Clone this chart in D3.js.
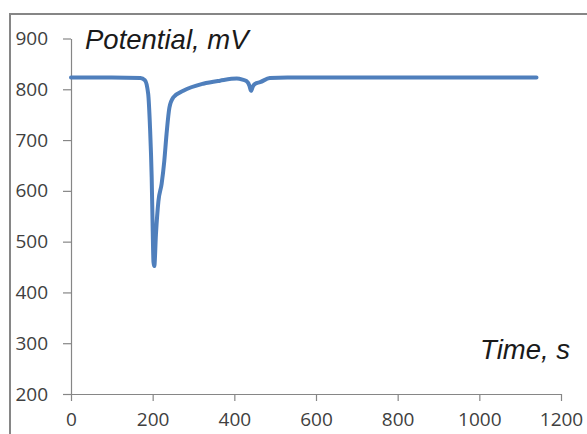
<!DOCTYPE html>
<html>
<head>
<meta charset="utf-8">
<script src="https://cdn.jsdelivr.net/npm/d3@7"></script>
<style>
  html, body { margin: 0; padding: 0; background: #fff; }
  #chart { width: 587px; height: 434px; }
</style>
</head>
<body>
<div id="chart"></div>
<script>
// time (s) and potential (mV)
const timeS = [0, 100, 170, 181, 189, 193.5, 197.6, 200, 202, 204, 208, 214, 222, 228.5, 234, 241, 250.5, 275, 324, 365, 406, 420, 430, 437, 441, 445, 451, 463, 487, 530, 600, 700, 800, 900, 1000, 1140];
const potentialMV = [823, 823, 822, 818, 791, 725, 626, 527, 460, 452, 514, 579, 614, 659, 712, 764, 784, 797, 811, 817, 821, 819, 816, 807, 797, 805, 811, 814, 822, 823, 823, 823, 823, 823, 823, 823];
const xTicks = [0, 200, 400, 600, 800, 1000, 1200];
const yTicks = [200, 300, 400, 500, 600, 700, 800, 900];

const W = 587, H = 434;
const svg = d3.select("#chart").append("svg")
  .attr("width", W).attr("height", H);

// outer chart frame (cropped at right and bottom)
svg.append("rect")
  .attr("x", 10).attr("y", 14)
  .attr("width", W + 20).attr("height", H + 20)
  .attr("fill", "#fff")
  .attr("stroke", "#868686")
  .attr("stroke-width", 2);

const x = d3.scaleLinear().domain([0, 1200]).range([71, 561]);
const y = d3.scaleLinear().domain([200, 900]).range([394, 38.5]);

const axisColor = "#868686";
const textColor = "#404040";

const gx = svg.append("g")
  .attr("transform", `translate(0,${y(200)})`)
  .call(d3.axisBottom(x).tickValues(xTicks).tickFormat(d3.format("d"))
    .tickSize(7).tickPadding(12).tickSizeOuter(0));
const gy = svg.append("g")
  .attr("transform", `translate(${x(0)},0)`)
  .call(d3.axisLeft(y).tickValues(yTicks).tickSize(8).tickPadding(15).tickSizeOuter(0));

[gx, gy].forEach(g => {
  g.select(".domain").attr("stroke", axisColor).attr("stroke-width", 1.2);
  g.selectAll(".tick line").attr("stroke", axisColor).attr("stroke-width", 1.2);
  g.selectAll(".tick text")
    .attr("fill", textColor)
    .attr("font-family", "'Open Sans', sans-serif")
    .attr("font-size", 19);
});

const line = d3.line()
  .x((d, i) => x(timeS[i]))
  .y(d => y(d))
  .curve(d3.curveMonotoneX);

svg.append("path")
  .datum(potentialMV)
  .attr("d", line)
  .attr("fill", "none")
  .attr("stroke", "#4F7FBC")
  .attr("stroke-width", 4)
  .attr("stroke-linejoin", "round")
  .attr("stroke-linecap", "round");

svg.append("text")
  .attr("x", 85).attr("y", 49)
  .attr("font-family", "'Liberation Sans', Arial, sans-serif")
  .attr("font-style", "italic")
  .attr("font-size", 27.5)
  .attr("fill", "#1a1a1a")
  .text("Potential, mV");

svg.append("text")
  .attr("x", 570).attr("y", 359)
  .attr("text-anchor", "end")
  .attr("font-family", "'Liberation Sans', Arial, sans-serif")
  .attr("font-style", "italic")
  .attr("font-size", 27.5)
  .attr("fill", "#1a1a1a")
  .text("Time, s");
</script>
</body>
</html>
